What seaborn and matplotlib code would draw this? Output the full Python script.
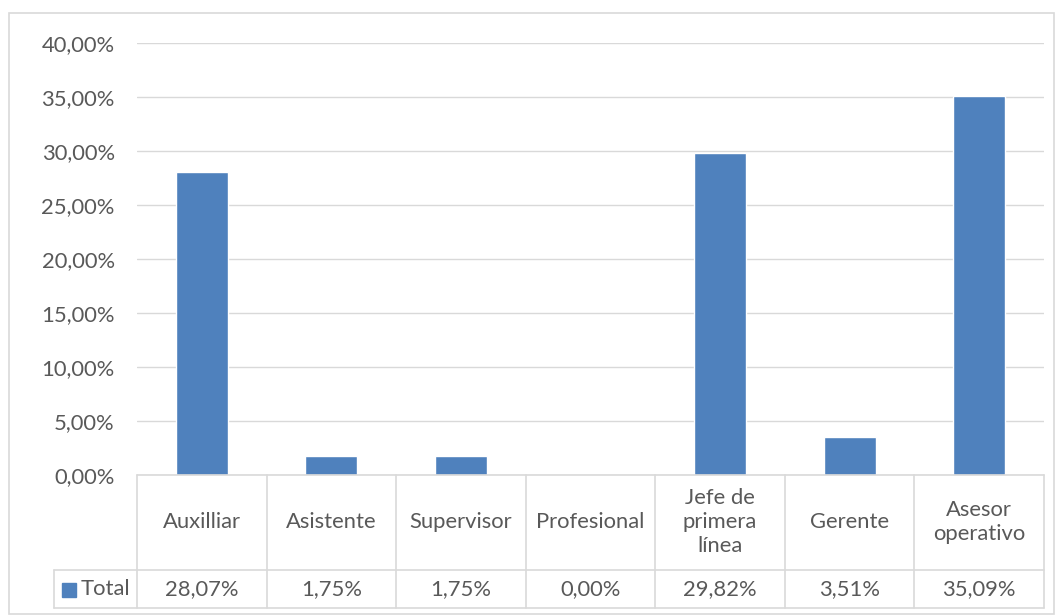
import matplotlib
matplotlib.use("Agg")
import matplotlib.pyplot as plt
import seaborn as sns
import pandas as pd
from matplotlib.patches import Rectangle

# Data
categories = ["Auxilliar", "Asistente", "Supervisor", "Profesional",
              "Jefe de primera línea", "Gerente", "Asesor operativo"]
cat_labels = ["Auxilliar", "Asistente", "Supervisor", "Profesional",
              "Jefe de\nprimera\nlínea", "Gerente", "Asesor\noperativo"]
values = [28.07, 1.75, 1.75, 0.00, 29.82, 3.51, 35.09]
yticks = [0, 5, 10, 15, 20, 25, 30, 35, 40]
series_name = "Total"

BAR = "#4f81bd"
GRID = "#d9d9d9"
TXT = "#595959"
FS = 15.8


def pct(v):
    return f"{v:.2f}%".replace(".", ",")


sns.set_style("white")
plt.rcParams["font.family"] = ["Lato", "DejaVu Sans"]

fig = plt.figure(figsize=(10.55, 6.15), dpi=100)
W, H = 1055, 615
ax = fig.add_axes([137 / W, 1 - 475 / H, (1044 - 137) / W, (475 - 43) / H])

df = pd.DataFrame({"cat": categories, "val": values})
sns.barplot(data=df, x="cat", y="val", color=BAR, width=0.4, saturation=1, ax=ax)

ax.set_xlim(-0.5, len(categories) - 0.5)
ax.set_ylim(0, 40)
ax.set_yticks(yticks)
ax.set_yticklabels([pct(v) for v in yticks], color=TXT, fontsize=FS)
ax.tick_params(axis="y", length=0, pad=16)
ax.set_xticks([])
ax.set_xlabel("")
ax.set_ylabel("")
ax.grid(axis="y", color=GRID, linewidth=1)
ax.set_axisbelow(True)
for s in ax.spines.values():
    s.set_visible(False)

# Data table below the plot (axes coordinates)
n = len(categories)
ph = 475 - 43
y1 = -(570 - 475) / ph
y2 = -(608 - 475) / ph
xleg = (54 - 137) / (1044 - 137)
tr = ax.transAxes
lk = dict(color=GRID, linewidth=1.2, transform=tr, clip_on=False)

ax.plot([0, 1], [0, 0], **lk)
ax.plot([xleg, 1], [y1, y1], **lk)
ax.plot([xleg, 1], [y2, y2], **lk)
ax.plot([xleg, xleg], [y1, y2], **lk)
for i in range(n + 1):
    x = i / n
    ax.plot([x, x], [0, y2], **lk)

for i, (lab, v) in enumerate(zip(cat_labels, values)):
    xc = (i + 0.5) / n
    ax.text(xc, y1 / 2, lab, transform=tr, ha="center", va="center",
            fontsize=FS, color=TXT, linespacing=1.25)
    ax.text(xc, (y1 + y2) / 2, pct(v), transform=tr, ha="center", va="center",
            fontsize=FS, color=TXT)

# legend key in the table
ax.add_patch(Rectangle((62 / W, 1 - 597 / H), 14 / W, 14 / H,
                       transform=fig.transFigure, color=BAR, clip_on=False))
fig.text(81 / W, 1 - 589 / H, series_name, ha="left", va="center",
         fontsize=FS, color=TXT)

# chart border
fig.add_artist(Rectangle((9 / W, 1 / H), 1045 / W, (615 - 14) / H,
                         transform=fig.transFigure, fill=False,
                         edgecolor=GRID, linewidth=1.2))

fig.savefig("out.png", dpi=100)
